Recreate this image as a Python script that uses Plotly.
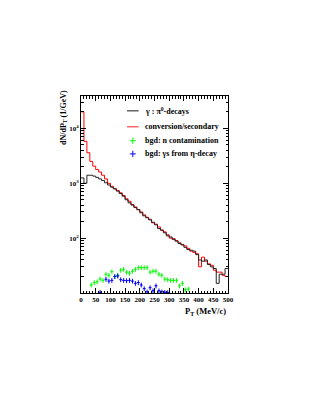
import plotly.graph_objects as go

# ---------------- data ----------------
bin_edges = list(range(0, 510, 10))  # P_T bin edges in MeV/c

pi0_decays = [1250, 1000, 1400, 1400, 1350, 1280, 1200, 1120, 1020, 930,
              850, 790, 720, 650, 580, 500, 440, 400, 360, 330,
              290, 255, 235, 215, 195, 175, 150, 140, 125, 110,
              105, 95, 88, 80, 76, 68, 62, 60, 58, 50,
              40, 38, 40, 33, 30, 28, 15, 22, 22, 28]

conversion = [20000, 5800, 3600, 2500, 2050, 1780, 1600, 1400, 1200, 1000,
              880, 800, 740, 670, 600, 520, 470, 410, 370, 330,
              300, 265, 240, 220, 190, 180, 160, 140, 130, 115,
              100, 98, 90, 82, 75, 72, 65, 58, 55, 52,
              30, 45, 38, 34, 32, 26, 24, 24, 21, 20]

n_pt = [35, 45, 55, 65, 75, 85, 95, 105, 115, 125, 135, 145, 155, 165, 175,
        185, 195, 205, 215, 225, 235, 245, 255, 265, 275, 285, 295, 305,
        315, 325, 335, 345, 355, 365]
n_contam = [14, 15.5, 16, 18, 17, 22, 21, 24.5, 20, 21, 26, 27, 24, 23, 25,
            27, 29, 29, 29, 29, 24, 25, 25, 22, 21, 18, 17.5, 17, 17, 17,
            13.5, 15, 11.5, 11.8]

eta_pt = [65, 85, 95, 105, 115, 125, 135, 145, 155, 165, 175, 185, 195,
          205, 215, 225, 235, 245, 255, 265, 275, 285, 295]
eta_decay = [10.3, 17.8, 16.5, 17, 20, 20.5, 17.5, 17, 16.8, 17, 16.5, 15,
             15.5, 14, 12, 10.5, 12.5, 11, 13.5, 11, 10.5, 10.3, 10.2]

x_ticks = [0, 50, 100, 150, 200, 250, 300, 350, 400, 450, 500]
y_ticks = [100, 1000, 10000]
y_tick_text = ["10<sup>2</sup>", "10<sup>3</sup>", "10<sup>4</sup>"]

legend_labels = ["γ : π<sup>0</sup>-decays", "conversion/secondary",
                 "bgd: n contamination", "bgd: γs from η-decay"]

# ---------------- figure ----------------
FONT = "Liberation Serif"
BLACK = "#000000"
RED = "#ff0000"
GREEN = "#00ff00"
BLUE = "#0000ff"

fig = go.Figure()

fig.add_trace(go.Scatter(
    x=bin_edges, y=conversion + [conversion[-1]], mode="lines",
    line=dict(color=RED, width=1, shape="hv"), showlegend=False))
fig.add_trace(go.Scatter(
    x=bin_edges, y=pi0_decays + [pi0_decays[-1]], mode="lines",
    line=dict(color="#222222", width=1, shape="hv"), showlegend=False))

for xs, ys, col in [(n_pt, n_contam, GREEN), (eta_pt, eta_decay, BLUE)]:
    fig.add_trace(go.Scatter(
        x=xs, y=ys, mode="markers",
        marker=dict(size=1, color=col),
        error_x=dict(type="constant", value=5, width=0, thickness=1, color=col),
        error_y=dict(type="percent", value=10, width=0, thickness=1, color=col),
        showlegend=False))

minor_y = [m * 10 ** d for d in range(1, 5) for m in range(2, 10) if m * 10 ** d < 40000]

fig.update_xaxes(
    range=[0, 500], showline=True, linecolor="black", linewidth=1, mirror="allticks",
    ticks="inside", ticklen=5, tickcolor="black", tickvals=x_ticks,
    minor=dict(ticks="inside", ticklen=2.5, dtick=10, tickcolor="black"),
    showgrid=False, zeroline=False,
    tickfont=dict(family=FONT, size=7, color="black", weight="bold"))
fig.update_yaxes(
    type="log", range=[1.0, 4.59], showline=True, linecolor="black", linewidth=1,
    mirror="allticks", ticks="inside", ticklen=5, tickcolor="black",
    tickvals=y_ticks, ticktext=y_tick_text,
    minor=dict(ticks="inside", ticklen=2.5, tickvals=minor_y, tickcolor="black"),
    showgrid=False, zeroline=False,
    tickfont=dict(family=FONT, size=7, color="black", weight="bold"))

# axis titles
fig.add_annotation(xref="paper", yref="paper", x=1.0, y=-0.055, xanchor="right", yanchor="top",
                   text="<b>P<sub>T</sub> (MeV/c)</b>", showarrow=False,
                   font=dict(family=FONT, size=8.5, color="black"))
fig.add_annotation(xref="paper", yref="paper", x=-0.12, y=1.04, xanchor="center", yanchor="top",
                   text="<b>dN/dP<sub>T</sub> (1/GeV)</b>", textangle=-90, showarrow=False,
                   font=dict(family=FONT, size=8, color="black"))

# legend (manual, ROOT-style)
leg_y = [0.925, 0.844, 0.773, 0.706]
sym_x0, sym_x1, txt_x = 0.313, 0.392, 0.422
for i, (lab, col) in enumerate(zip(legend_labels, [BLACK, RED, GREEN, BLUE])):
    yy = leg_y[i]
    if i < 2:
        fig.add_shape(type="line", xref="paper", yref="paper",
                      x0=sym_x0, x1=sym_x1, y0=yy, y1=yy,
                      line=dict(color="#666666" if i == 0 else "#ff6666", width=1.5))
    else:
        xc = (sym_x0 + sym_x1) / 2
        fig.add_shape(type="line", xref="paper", yref="paper",
                      x0=xc - 0.02, x1=xc + 0.02, y0=yy, y1=yy, line=dict(color=col, width=1))
        fig.add_shape(type="line", xref="paper", yref="paper",
                      x0=xc, x1=xc, y0=yy - 0.016, y1=yy + 0.016, line=dict(color=col, width=1))
    fig.add_annotation(xref="paper", yref="paper", x=txt_x, y=yy, xanchor="left", yanchor="middle",
                       text="<b>" + lab + "</b>", showarrow=False,
                       font=dict(family=FONT, size=8, color="black"))

# page body has an 8px margin; offset plot margins so the frame sits where the reference's does
fig.update_layout(
    width=316, height=408,
    margin=dict(l=72.5, r=96, t=88, b=123, pad=0),
    paper_bgcolor="white", plot_bgcolor="white",
    showlegend=False)

fig.write_html("out.html")
